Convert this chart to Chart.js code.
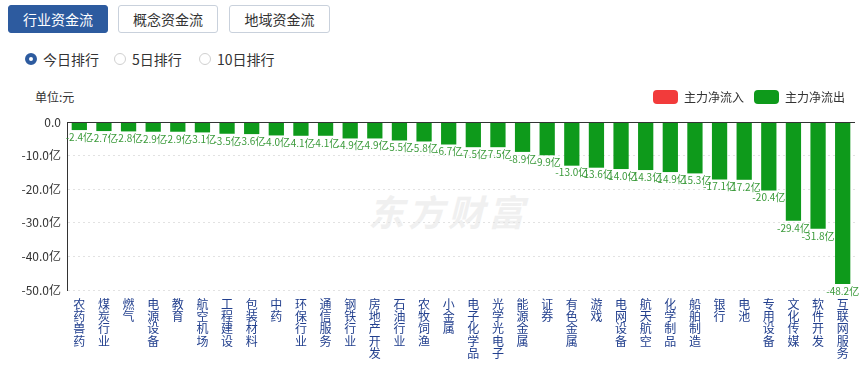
<!DOCTYPE html>
<html>
<head>
<meta charset="utf-8">
<title>行业资金流</title>
<script src="https://cdn.jsdelivr.net/npm/chart.js"></script>
<style>
body {
    margin: 0;
    width: 868px;
    height: 366px;
    overflow: hidden;
    background: #fff;
    color: #333;
    font-family: "Noto Sans CJK SC", "Microsoft YaHei", sans-serif;
    position: relative;
}
.tab {
    position: absolute;
    top: 5px;
    height: 28px;
    box-sizing: border-box;
    border: 1px solid #c9d1dc;
    border-radius: 3px;
    background: #fff;
    color: #333;
    font-size: 14px;
    line-height: 26px;
    text-align: center;
}
.tab.on {
    background: #2d5b9f;
    border-color: #2d5b9f;
    color: #fff;
}
.radio {
    position: absolute;
    top: 50px;
    font-size: 14px;
    line-height: 18px;
    padding-left: 18px;
}
.radio::before {
    content: "";
    position: absolute;
    left: 0;
    top: 3px;
    width: 12px;
    height: 12px;
    box-sizing: border-box;
    border-radius: 50%;
    border: 1px solid #d0d0d0;
}
.radio.on::before {
    border: 4px solid #2d5b9f;
}
#unit {
    position: absolute;
    left: 35px;
    top: 88px;
    font-size: 12px;
}
#mark {
    position: absolute;
    left: 368px;
    top: 184px;
    font-size: 36px;
    font-weight: bold;
    font-style: italic;
    color: #f0f0f0;
    letter-spacing: 4px;
}
#wrap {
    position: absolute;
    left: 0;
    top: 80px;
    width: 868px;
    height: 286px;
}
</style>
</head>
<body>
<div class="tab on" style="left:8px;width:100px">行业资金流</div>
<div class="tab" style="left:118px;width:100px">概念资金流</div>
<div class="tab" style="left:229px;width:101px">地域资金流</div>

<div class="radio on" style="left:25px">今日排行</div>
<div class="radio" style="left:114px">5日排行</div>
<div class="radio" style="left:199px">10日排行</div>

<div id="unit">单位:元</div>
<div id="mark">东方财富</div>

<div id="wrap"><canvas id="flowChart" width="868" height="286"></canvas></div>

<script>
// 行业资金流 今日排行 (亿元)
const categories = [
    '农药兽药', '煤炭行业', '燃气', '电源设备', '教育', '航空机场', '工程建设', '包装材料',
    '中药', '环保行业', '通信服务', '钢铁行业', '房地产开发', '石油行业', '农牧饲渔', '小金属',
    '电子化学品', '光学光电子', '能源金属', '证券', '有色金属', '游戏', '电网设备', '航天航空',
    '化学制品', '船舶制造', '银行', '电池', '专用设备', '文化传媒', '软件开发', '互联网服务'
];
const outflow = [
    -2.4, -2.7, -2.8, -2.9, -2.9, -3.1, -3.5, -3.6,
    -4.0, -4.1, -4.1, -4.9, -4.9, -5.5, -5.8, -6.7,
    -7.5, -7.5, -8.9, -9.9, -13.0, -13.6, -14.0, -14.3,
    -14.9, -15.3, -17.1, -17.2, -20.4, -29.4, -31.8, -48.2
];
const inflow = [];
const yTicks = [0, -10, -20, -30, -40, -50];

const FONT = '"Noto Sans CJK SC", "Microsoft YaHei", sans-serif';

// leave a little more room under the legend
const legendGap = {
    id: 'legendGap',
    beforeInit(chart) {
        const fit = chart.legend.fit;
        chart.legend.fit = function () {
            fit.call(this);
            this.height += 8;
        };
    }
};

// solid line along the zero value
const zeroLine = {
    id: 'zeroLine',
    afterDatasetsDraw(chart) {
        const { ctx, chartArea, scales } = chart;
        const y = Math.round(scales.y.getPixelForValue(0)) + 0.5;
        ctx.save();
        ctx.strokeStyle = '#333';
        ctx.lineWidth = 1;
        ctx.beginPath();
        ctx.moveTo(chartArea.left, y);
        ctx.lineTo(chartArea.right, y);
        ctx.stroke();
        ctx.restore();
    }
};

// value under each bar
const barLabels = {
    id: 'barLabels',
    afterDatasetsDraw(chart) {
        const ctx = chart.ctx;
        const meta = chart.getDatasetMeta(1);
        ctx.save();
        ctx.font = '10px ' + FONT;
        ctx.fillStyle = '#3a9a3a';
        ctx.textAlign = 'center';
        ctx.textBaseline = 'top';
        meta.data.forEach((bar, i) => {
            ctx.fillText(outflow[i].toFixed(1) + '亿', bar.x, bar.y + 2);
        });
        ctx.restore();
    }
};

new Chart(document.getElementById('flowChart'), {
    type: 'bar',
    data: {
        labels: categories.map(c => c.split('')),
        datasets: [
            { label: '主力净流入', data: inflow, backgroundColor: '#f23b3b' },
            { label: '主力净流出', data: outflow, backgroundColor: '#0e9a1b' }
        ]
    },
    options: {
        responsive: false,
        animation: false,
        devicePixelRatio: 1,
        barPercentage: 0.62,
        categoryPercentage: 1,
        layout: { padding: { left: 0, right: 13, top: 0, bottom: 0 } },
        plugins: {
            tooltip: { enabled: false },
            legend: {
                position: 'top',
                align: 'end',
                labels: {
                    boxWidth: 25,
                    boxHeight: 14,
                    useBorderRadius: true,
                    borderRadius: 4,
                    padding: 10,
                    color: '#333',
                    font: { size: 12, family: FONT }
                }
            }
        },
        scales: {
            x: {
                stacked: true,
                grid: { display: false },
                border: { display: false },
                ticks: {
                    autoSkip: false,
                    maxRotation: 0,
                    padding: 0,
                    color: '#23408e',
                    font: { size: 12, family: FONT, lineHeight: 1.03 }
                },
                afterFit(scale) { scale.height = 76; }
            },
            y: {
                stacked: true,
                min: -50,
                max: 0,
                afterBuildTicks(scale) {
                    scale.ticks = yTicks.map(v => ({ value: v }));
                },
                ticks: {
                    padding: 6,
                    color: '#333',
                    font: { size: 12, family: FONT },
                    callback: v => v === 0 ? '0.0' : v.toFixed(1) + '亿'
                },
                grid: { color: '#e2e2e2', drawTicks: false },
                border: { display: true, color: '#333', width: 1, dash: [2, 3] },
                afterFit(scale) { scale.width = 67; }
            }
        }
    },
    plugins: [legendGap, zeroLine, barLabels]
});
</script>
</body>
</html>
